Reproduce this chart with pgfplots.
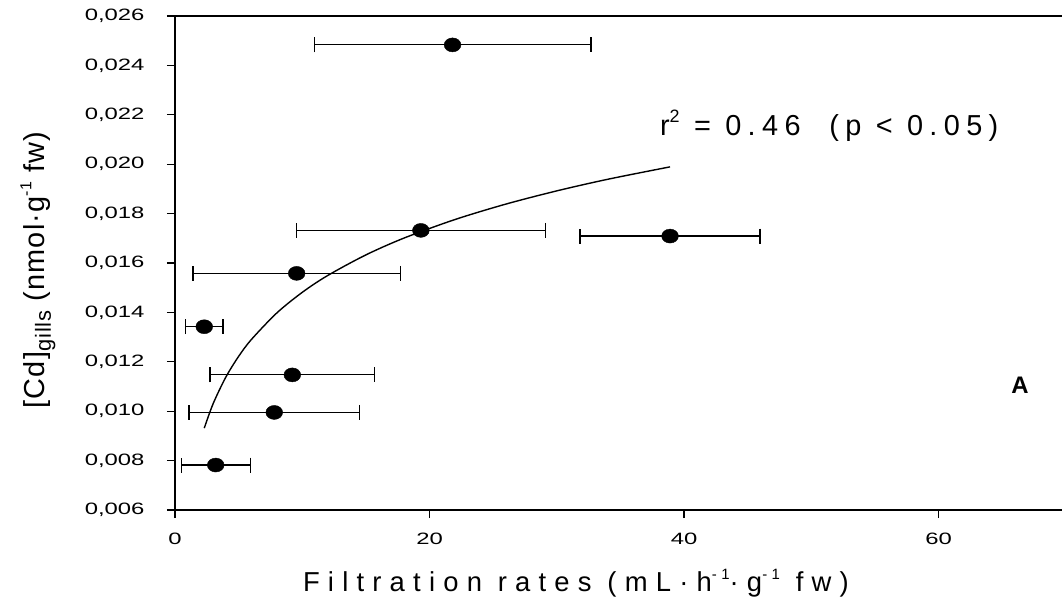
\documentclass[border=0pt]{standalone}
\usepackage{pgfplots}
\pgfplotsset{compat=1.18}
\usepackage{fontspec}
\setmainfont{Liberation Sans}
\newfontfamily\tickf[FakeStretch=1.45]{Liberation Sans}
\newfontfamily\spaced[LetterSpace=22]{Liberation Sans}
\newfontfamily\spacedb[LetterSpace=30]{Liberation Sans}
\newfontfamily\spacedy[LetterSpace=4]{Liberation Sans}
\begin{document}
\begin{tikzpicture}
\begin{axis}[
  scale only axis, width=887bp, height=494bp,
  xmin=0, xmax=69.7, ymin=0.006, ymax=0.026,
  axis x line*=bottom, axis y line*=left,
  xtick={0,20,40,60},
  ytick={0.006,0.008,0.010,0.012,0.014,0.016,0.018,0.020,0.022,0.024,0.026},
  scaled y ticks=false,
  tick align=outside, major tick length=8bp,
  tick style={line width=1.2bp, black},
  axis line style={line width=1.3bp},
  /pgf/number format/assume math mode=true,
  tick label style={font=\fontsize{16.5}{16.5}\selectfont\tickf},
  yticklabel style={xshift=-19bp, /pgf/number format/.cd, fixed, fixed zerofill, precision=3, use comma},
  xticklabel style={yshift=-12bp},
  xlabel={\spacedb Filtration rates (mL·h\raisebox{0.45em}{\fontsize{15}{15}\selectfont -1}·g\raisebox{0.45em}{\fontsize{15}{15}\selectfont -1} fw)},
  xlabel style={font=\fontsize{27.5}{27.5}\selectfont, at={(axis description cs:0.452,-0.148)}, anchor=center},
  ylabel={\spacedy [Cd]\raisebox{-0.22em}{\fontsize{22}{22}\selectfont gills} (nmol·g\raisebox{0.45em}{\fontsize{16}{16}\selectfont -1} fw)},
  ylabel style={font=\fontsize{29}{29}\selectfont, at={(axis description cs:-0.1545,0.486)}, anchor=center},
  clip=false,
]
\draw[line width=1.3bp] (rel axis cs:0,1) -- (rel axis cs:1,1);
\addplot[only marks, mark=*, mark options={black, fill=black, xscale=1.2}, mark size=7bp,
  error bars/.cd, x dir=both, x explicit, error mark=|,
  error bar style={line width=1.2bp, black},
  error mark options={mark size=7.5bp, line width=1.4bp, black, xscale=1}]
coordinates {
  (21.81,0.02483) +- (10.87,0)
  (19.32,0.01732) +- (9.78,0)
  (38.90,0.01709) +- (7.07,0)
  (9.56,0.01558) +- (8.14,0)
  (2.30,0.01342) +- (1.46,0)
  (9.22,0.01147) +- (6.47,0)
  (7.80,0.00995) +- (6.71,0)
  (3.20,0.00782) +- (2.71,0)
};
\addplot[smooth, no marks, line width=1.4bp, black] coordinates {
  (2.3,0.009315) (3,0.010309) (4,0.011385) (5,0.012219) (6,0.012901)
  (8,0.013977) (10,0.014812) (12,0.015494) (15,0.016328) (18,0.017010)
  (22,0.017760) (26,0.018385) (30,0.018920) (34,0.019389) (38.9,0.019892)
};
\node[anchor=base west, font=\fontsize{29}{29}\selectfont\spaced, inner sep=0pt]
  at (axis cs:38.1,0.02118) {r\raisebox{0.45em}{\fontsize{18}{18}\selectfont 2} = 0.46\ \ (p < 0.05)};
\node[font=\fontsize{24}{24}\selectfont\bfseries, inner sep=0pt] at (axis cs:66.4,0.01106) {A};
\end{axis}
\pgfresetboundingbox
\path[use as bounding box] (-175bp,-102bp) rectangle (887bp,510bp);
\end{tikzpicture}
\end{document}
